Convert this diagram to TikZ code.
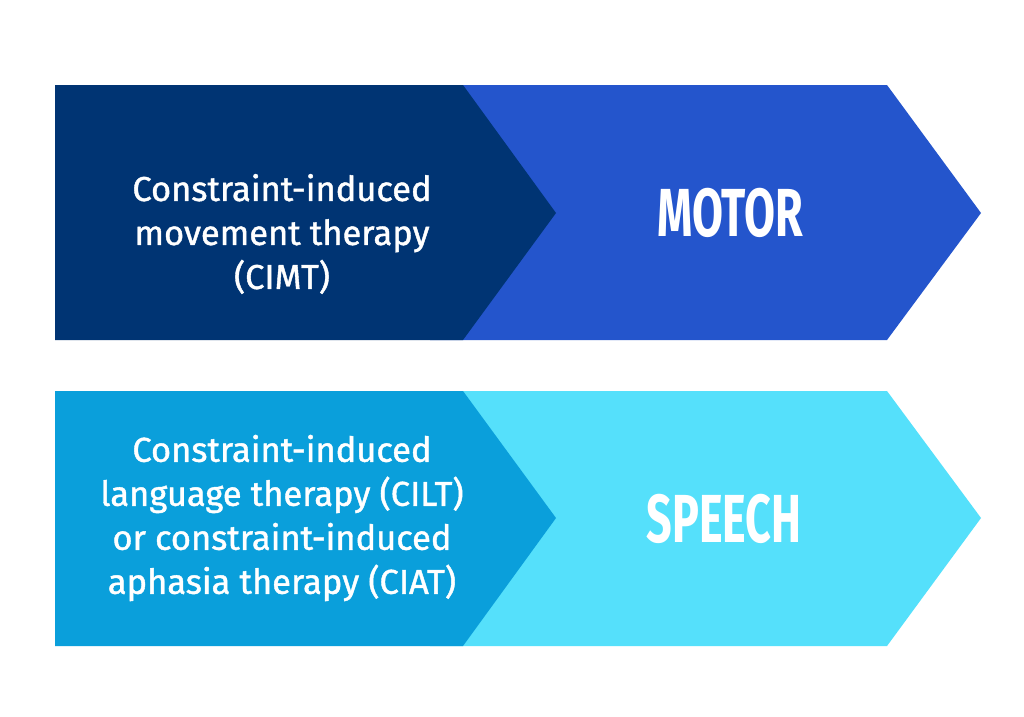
\documentclass[tikz,border=0pt]{standalone}
\usepackage{fontspec}
\setmainfont{Fira Sans}[FakeBold=1.2]
\newfontfamily\titlefont{Fira Sans}[FakeStretch=0.66,UprightFont=* Bold]
\definecolor{navy}{HTML}{003473}
\definecolor{royal}{HTML}{2455CC}
\definecolor{sky}{HTML}{0A9FDB}
\definecolor{cyanl}{HTML}{55E0FB}
\tikzset{
  body/.style={text=white,align=center,font=\fontsize{34.5}{44}\selectfont},
  title/.style={text=white,font=\titlefont\fontsize{68}{68}\selectfont},
}
\begin{document}
\begin{tikzpicture}[x=1pt,y=-1pt]
\useasboundingbox[fill=white] (0,0) rectangle (1024,716);
% top band
\fill[royal] (430,85) -- (887,85) -- (981,213) -- (887,340) -- (430,340) -- cycle;
\fill[navy] (55,85) -- (463,85) -- (556,213) -- (463,340) -- (55,340) -- cycle;
% bottom band
\fill[cyanl] (430,391) -- (887,391) -- (981,518) -- (887,646) -- (430,646) -- cycle;
\fill[sky] (55,391) -- (463,391) -- (556,518) -- (463,646) -- (55,646) -- cycle;
% texts
\node[body] (cimt) at (282,234) {Constraint-induced\\movement therapy\\(CIMT)};
\node[title] (motor) at (730,213) {MOTOR};
\node[body] (cilt) at (282,518) {Constraint-induced\\language therapy (CILT)\\or constraint-induced\\aphasia therapy (CIAT)};
\node[title] (speech) at (724,519) {SPEECH};
\end{tikzpicture}
\end{document}
